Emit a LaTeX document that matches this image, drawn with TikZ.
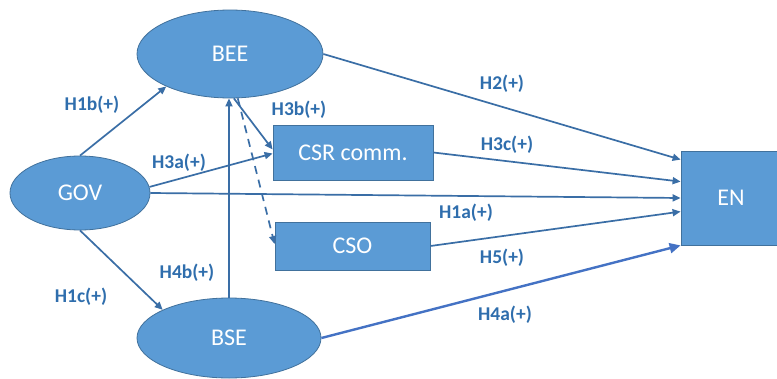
\documentclass[tikz,border=0pt]{standalone}
\usepackage{fontspec}
\setmainfont{Carlito}
\usetikzlibrary{shapes.geometric,arrows.meta}

\definecolor{fillblue}{HTML}{5B9BD5}
\definecolor{edgeblue}{HTML}{41719C}
\definecolor{lineblue}{HTML}{3A6EA6}
\definecolor{brightblue}{HTML}{4472C4}
\definecolor{hypblue}{HTML}{2F6EAD}

\begin{document}
\begin{tikzpicture}[x=1pt,y=-1pt,
 every node/.style = {font=\fontsize{24}{28}\selectfont, text=white, inner sep=0},
 construct/.style = {ellipse, draw=edgeblue, fill=fillblue, line width=0.8pt},
 outcome/.style = {rectangle, draw=edgeblue, fill=fillblue, line width=0.8pt},
 hyp/.style = {font=\fontsize{19.5}{23}\selectfont\bfseries, text=hypblue},
 link/.style = {draw=lineblue, line width=1.7pt, -{Triangle[length=8pt,width=7pt]}}]
 \useasboundingbox (0,0) rectangle (777,378);
 \fill[white] (0,0) rectangle (777,378);

 % constructs
 \node [construct, minimum width=186, minimum height=88] (bee) at (230,54) {BEE};
 \node [construct, minimum width=140, minimum height=74] (gov) at (80,193) {GOV};
 \node [construct, minimum width=184, minimum height=80] (bse) at (229,338) {BSE};
 \node [outcome, minimum width=160, minimum height=55] (csr) at (353,152.5) {CSR comm.};
 \node [outcome, minimum width=155, minimum height=48] (cso) at (352.5,246) {CSO};
 \node [outcome, minimum width=100, minimum height=94] (en) at (731,198) {EN};

 % paths
 \draw [link] (gov.north) -- (bee.207);
 \draw [link] (gov.south) -- (bse.157);
 \draw [link] (gov.5) -- ([yshift=-1pt]csr.west);
 \draw [link] (gov.east) -- (en.west);
 \draw [link] (bee.-85) -- ([yshift=3pt]csr.west);
 \draw [link, dash pattern=on 8pt off 6pt] (bee.-80) -- ([yshift=2pt]cso.west);
 \draw [link] (bse.north) -- (bse.north |- bee.south);
 \draw [link] (bee.east) -- ([yshift=-9pt]en.north west);
 \draw [link] (csr.east) -- ([yshift=-31pt]en.north west);
 \draw [link] (cso.east) -- ([yshift=-61pt]en.north west);
 \draw [link, draw=brightblue, line width=2.4pt, -{Triangle[length=11pt,width=10pt]}] (bse.east) -- (en.south west);

 % hypotheses
 \node [hyp] (h1b) at (92,105) {H1b(+)};
 \node [hyp] (h1c) at (81,297) {H1c(+)};
 \node [hyp] (h3a) at (179,163) {H3a(+)};
 \node [hyp] (h3b) at (299,110) {H3b(+)};
 \node [hyp] (h4b) at (187,273) {H4b(+)};
 \node [hyp] (h2) at (502,84) {H2(+)};
 \node [hyp] (h3c) at (507,145) {H3c(+)};
 \node [hyp] (h1a) at (466,213) {H1a(+)};
 \node [hyp] (h5) at (502,258) {H5(+)};
 \node [hyp] (h4a) at (505,315) {H4a(+)};
\end{tikzpicture}
\end{document}
